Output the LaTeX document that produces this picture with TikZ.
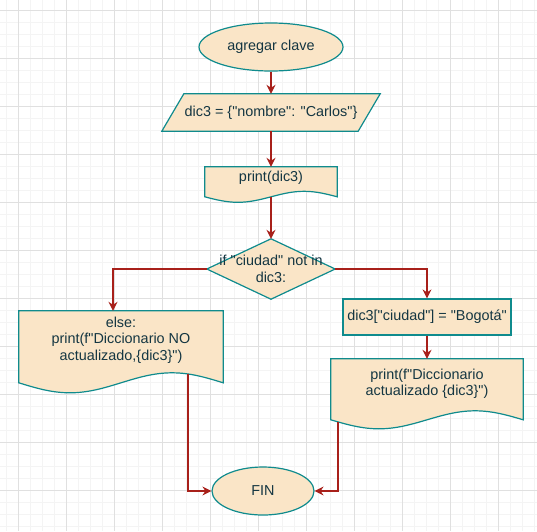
\documentclass[tikz,border=0pt]{standalone}
\usepackage{fontspec}
\setmainfont{Liberation Sans}[Ligatures=TeXOff]
\usetikzlibrary{shapes.geometric,arrows.meta,calc}
\pgfdeclarelayer{grid}
\pgfdeclarelayer{background}
\pgfsetlayers{grid,background,main}
\definecolor{fillc}{HTML}{FAE5C7}
\definecolor{strokec}{HTML}{0F8B8D}
\definecolor{edgec}{HTML}{A8201A}
\definecolor{textc}{HTML}{143642}
\definecolor{gridmaj}{HTML}{E0E0E0}
\definecolor{gridmin}{HTML}{F4F4F4}
\newcommand\docpath[3]{%
  \draw[outline] let \p1=(#1.north west), \p2=(#1.north east), \n1={(\x2-\x1)/4}, \n2={\y1-#2pt}, \n3={#3pt} in
  (\x1,\y1) -- (\x2,\y1) -- (\x2,\n2) sin (\x2-\n1,\n2+\n3) cos (\x2-2*\n1,\n2) sin (\x1+\n1,\n2-\n3) cos (\x1,\n2) -- cycle;}
\begin{document}
\begin{tikzpicture}[x=1pt,y=-1pt,
  base/.style={font=\fontsize{14.4}{16.5}\selectfont, text=textc, align=center, inner sep=0pt},
  term/.style={base, ellipse, draw=strokec, fill=fillc, line width=1.2pt},
  plain/.style={base, rectangle},
  outline/.style={draw=strokec, fill=fillc, line width=1.2pt},
  proc/.style={base, rectangle, draw=strokec, fill=fillc, line width=1.2pt},
  edge/.style={draw=edgec, line width=1.2pt, -{Stealth[length=9pt,width=9pt,inset=3pt]}},
  minorgrid/.style={draw=gridmin, line width=1pt},
  majorgrid/.style={draw=gridmaj, line width=1pt}]
\useasboundingbox (0,0) rectangle (537,531);
\begin{pgfonlayer}{grid}
  \fill[white] (0,0) rectangle (537,531);
  \foreach \x in {6,18,...,534} \draw[minorgrid] (\x,0) -- (\x,531);
  \foreach \y in {10,22,...,530} \draw[minorgrid] (0,\y) -- (537,\y);
  \foreach \x in {18,66,...,534} \draw[majorgrid] (\x,0) -- (\x,531);
  \foreach \y in {10,58,...,530} \draw[majorgrid] (0,\y) -- (537,\y);
\end{pgfonlayer}

\node[term, minimum width=144, minimum height=48] (start) at (271,47) {agregar clave};
\node[plain, minimum width=196, minimum height=37] (p) at (271,112.5) {dic3 = \{"nombre": "Carlos"\}};
\node[plain, minimum width=132, minimum height=22] (d1) at (271,178) {print(dic3)};
\node[plain, minimum width=128, minimum height=60] (dm) at (271,269) {if "ciudad" not in\\dic3:};
\node[plain, minimum width=204, minimum height=58] (d2) at (121,340) {else:\\print(f"Diccionario NO\\actualizado,\{dic3\}")};
\node[proc, minimum width=168, minimum height=36] (b1) at (427,317) {dic3["ciudad"] = "Bogotá"};
\node[plain, minimum width=192, minimum height=50] (d3) at (427,384) {print(f"Diccionario\\actualizado \{dic3\}")};
\node[term, minimum width=102, minimum height=48] (fin) at (263,491) {FIN};

\begin{pgfonlayer}{background}
  \draw[outline] ($(p.north west)+(11,0)$) -- ($(p.north east)+(11,0)$) -- ($(p.south east)+(-11,0)$) -- ($(p.south west)+(-11,0)$) -- cycle;
  \draw[outline] (dm.north) -- (dm.east) -- (dm.south) -- (dm.west) -- cycle;
  \docpath{d1}{30}{5.5}
  \docpath{d2}{72}{10}
  \docpath{d3}{61}{9}
\end{pgfonlayer}

\coordinate (d1b) at ($(d1.north)+(0,30)$);
\coordinate (d2b) at ($(d2.north)+(67,63)$);
\coordinate (d3b) at ($(d3.north)+(-89,63)$);

\draw[edge] (start.south) -- (p.north);
\draw[edge] (p.south) -- (d1.north);
\draw[edge] (d1b) -- (dm.north);
\draw[edge] (dm.west) -| ([xshift=-8pt]d2.north);
\draw[edge] (dm.east) -| (b1.north);
\draw[edge] (b1.south) -- (d3.north);
\draw[edge] (d2b) |- (fin.west);
\draw[edge] (d3b) |- (fin.east);
\end{tikzpicture}
\end{document}
